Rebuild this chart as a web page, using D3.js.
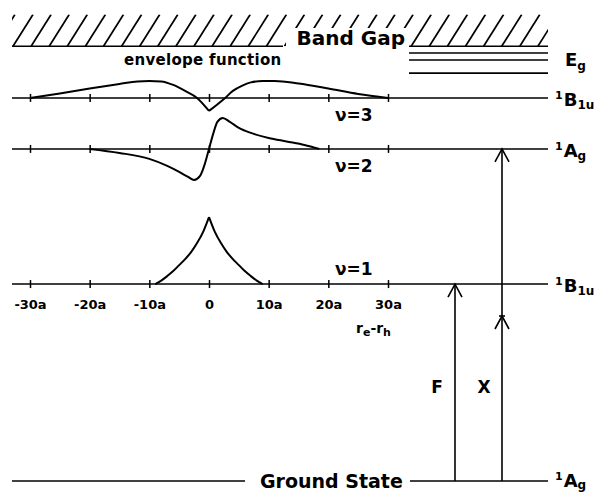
<!DOCTYPE html>
<html>
<head>
<meta charset="utf-8">
<script src="https://cdn.jsdelivr.net/npm/d3@7"></script>
<style>
  body { margin: 0; background: #fff; }
  text { font-family: "DejaVu Sans", sans-serif; font-weight: bold; fill: #000; }
</style>
</head>
<body>
<div id="chart"></div>
<script>
// electron-hole separation axis (units of a)
var tickValues = [-30, -20, -10, 0, 10, 20, 30];
var tickLabels = ["-30a", "-20a", "-10a", "0", "10a", "20a", "30a"];

// exciton levels, energies in arbitrary units
var stateNu = ["", "1", "2", "3"];
var stateEnergy = [0, 9.92, 16.73, 19.3];
var stateLetter = ["A", "B", "A", "B"];
var stateSub = ["g", "1u", "g", "1u"];
var gapEnergy = 21.9;
var bandTopEnergy = 23.5;
var egEnergy = [21.9, 21.56, 21.21, 20.55];

// envelope functions, [r in a, amplitude]
var env1Left = [[-9, 0], [-8, 3.5], [-7, 8], [-6, 13], [-5, 19], [-4, 25], [-3, 32], [-2, 41], [-1, 52], [0, 67]];
var env1Right = [[0, 67], [1, 52], [2, 41], [3, 32], [4, 25], [5, 19], [6, 13], [7, 8], [8, 3.5], [9, 0]];
var env2 = [[-20, 0], [-15, -4], [-10, -10], [-7, -17], [-5, -23], [-3.5, -28], [-2.5, -31],
  [-1.5, -27], [-0.7, -15], [0, 0], [0.7, 15], [1.4, 27], [2.3, 31], [3.5, 27], [5, 21],
  [7, 16], [10, 11], [13, 7.5], [16, 4], [18.5, 0]];
var env3Left = [[-30, 0], [-25, 4.5], [-20, 9.5], [-15, 14], [-12, 16.5], [-10, 17], [-8, 16.5],
  [-6, 13], [-4, 7], [-2, 0], [0, -13]];
var env3Right = [[0, -13], [2.7, 0], [4, 7], [5.5, 12], [7, 15.5], [9, 17], [11, 17],
  [15, 14.5], [20, 9.5], [25, 4], [30, 0]];

// optical transitions
var transName = ["F", "X"];
var transTo = [9.92, 16.73];

var svgWidth = 605;
var svgHeight = 495;
var lineLeft = 12;
var lineRight = 548;

var svg = d3.select("#chart")
  .append("svg")
  .attr("width", svgWidth)
  .attr("height", svgHeight);

var x = d3.scaleLinear().domain([-30, 30]).range([30, 388]);
var y = d3.scaleLinear().domain([0, 20]).range([481, 84]);
var amp = d3.scaleLinear().domain([0, 1]).range([0, -1]);

// band gap hatch
svg.append("clipPath").attr("id", "band")
  .append("rect")
  .attr("x", lineLeft).attr("y", y(bandTopEnergy))
  .attr("width", lineRight - lineLeft).attr("height", y(gapEnergy) - y(bandTopEnergy));

var hatch = d3.range(-1, 31);
svg.append("g").attr("clip-path", "url(#band)")
  .selectAll("line").data(hatch).enter().append("line")
  .attr("x1", k => 13 + 18.1 * k)
  .attr("y1", y(gapEnergy))
  .attr("x2", k => 33 + 18.1 * k)
  .attr("y2", y(bandTopEnergy))
  .attr("stroke", "#000").attr("stroke-width", 1.7);

svg.append("rect")
  .attr("x", 286).attr("y", 28).attr("width", 122).attr("height", 20)
  .attr("fill", "#fff");

svg.append("text")
  .attr("x", 405).attr("y", 45)
  .attr("text-anchor", "end")
  .attr("font-size", "20px")
  .text("Band Gap");

svg.append("line")
  .attr("x1", lineLeft).attr("x2", 283)
  .attr("y1", y(gapEnergy)).attr("y2", y(gapEnergy))
  .attr("stroke", "#000").attr("stroke-width", 1.6);

svg.selectAll(".eg").data(egEnergy).enter().append("line")
  .attr("class", "eg")
  .attr("x1", 409).attr("x2", lineRight)
  .attr("y1", d => y(d)).attr("y2", d => y(d))
  .attr("stroke", "#000").attr("stroke-width", 1.6);

var eg = svg.append("text").attr("x", 565).attr("y", 66).attr("font-size", "18px");
eg.append("tspan").text("E");
eg.append("tspan").attr("font-size", "12px").attr("dy", 4).text("g");

svg.append("text")
  .attr("x", 124).attr("y", 65)
  .attr("font-size", "15px")
  .attr("letter-spacing", "0.3px")
  .text("envelope function");

// level lines
stateEnergy.forEach(function(e, i) {
  var ly = y(e);
  if (i === 0) {
    svg.append("line").attr("x1", lineLeft).attr("x2", 245)
      .attr("y1", ly).attr("y2", ly).attr("stroke", "#000").attr("stroke-width", 1.5);
    svg.append("line").attr("x1", 410).attr("x2", lineRight)
      .attr("y1", ly).attr("y2", ly).attr("stroke", "#000").attr("stroke-width", 1.5);
    svg.append("text").attr("x", 260).attr("y", ly + 7)
      .attr("font-size", "19px").text("Ground State");
  } else {
    svg.append("line").attr("x1", lineLeft).attr("x2", lineRight)
      .attr("y1", ly).attr("y2", ly).attr("stroke", "#000").attr("stroke-width", 1.5);

    var axis = d3.axisBottom(x)
      .tickValues(tickValues)
      .tickSize(4)
      .tickPadding(12)
      .tickFormat((d, j) => i === 1 ? tickLabels[j] : "");
    var g = svg.append("g")
      .attr("transform", `translate(0, ${ly})`)
      .call(axis);
    g.select(".domain").remove();
    g.selectAll(".tick line").attr("y1", -4).attr("stroke-width", 1.5);
    g.selectAll(".tick text")
      .attr("font-family", "DejaVu Sans")
      .attr("font-size", "13px")
      .attr("font-weight", "bold");

    var nuY = i === 1 ? ly - 9 : ly + 23;
    svg.append("text").attr("x", 335).attr("y", nuY)
      .attr("font-size", "17px").text("\u03bd=" + stateNu[i]);
  }

  var base = i === 0 ? 6 : 8;
  var lab = svg.append("text").attr("x", 555).attr("y", ly + base).attr("font-size", "18px");
  lab.append("tspan").attr("font-size", "11px").attr("dy", -7).text("1");
  lab.append("tspan").attr("dy", 7).attr("dx", 1).text(stateLetter[i]);
  lab.append("tspan").attr("font-size", "12px").attr("dy", i === 0 ? 2 : 3).text(stateSub[i]);
});

// envelope curves
function drawEnvelope(data, level) {
  var ly = y(stateEnergy[level]);
  var line = d3.line()
    .x(d => x(d[0]))
    .y(d => ly + amp(d[1]))
    .curve(d3.curveMonotoneX);
  svg.append("path")
    .datum(data)
    .attr("d", line)
    .attr("fill", "none")
    .attr("stroke", "#000")
    .attr("stroke-width", 2);
}
drawEnvelope(env1Left, 1);
drawEnvelope(env1Right, 1);
drawEnvelope(env2, 2);
drawEnvelope(env3Left, 3);
drawEnvelope(env3Right, 3);

// r_e - r_h label
var rr = svg.append("text").attr("x", 356).attr("y", 333).attr("font-size", "14px");
rr.append("tspan").text("r");
rr.append("tspan").attr("font-size", "11px").attr("dy", 3).text("e");
rr.append("tspan").attr("dy", -3).text("-r");
rr.append("tspan").attr("font-size", "11px").attr("dy", 3).text("h");

// transitions
var transX = [455, 502];
function chevron(cx, tip) {
  svg.append("path")
    .attr("d", `M${cx - 7},${tip + 13}L${cx},${tip}L${cx + 7},${tip + 13}`)
    .attr("fill", "none").attr("stroke", "#000").attr("stroke-width", 1.6);
}
transName.forEach(function(n, i) {
  var cx = transX[i];
  svg.append("line")
    .attr("x1", cx).attr("x2", cx)
    .attr("y1", y(0)).attr("y2", y(transTo[i]))
    .attr("stroke", "#000").attr("stroke-width", 1.6);
  chevron(cx, y(transTo[i]));
  svg.append("text").attr("x", cx - 18).attr("y", 393)
    .attr("text-anchor", "middle").attr("font-size", "17px").text(n);
});
// second arrowhead on X below the 1B1u level
chevron(transX[1], 316);
svg.append("line").attr("x1", transX[1] - 3).attr("x2", transX[1] + 3)
  .attr("y1", 316).attr("y2", 316).attr("stroke", "#000").attr("stroke-width", 1.6);
</script>
</body>
</html>
